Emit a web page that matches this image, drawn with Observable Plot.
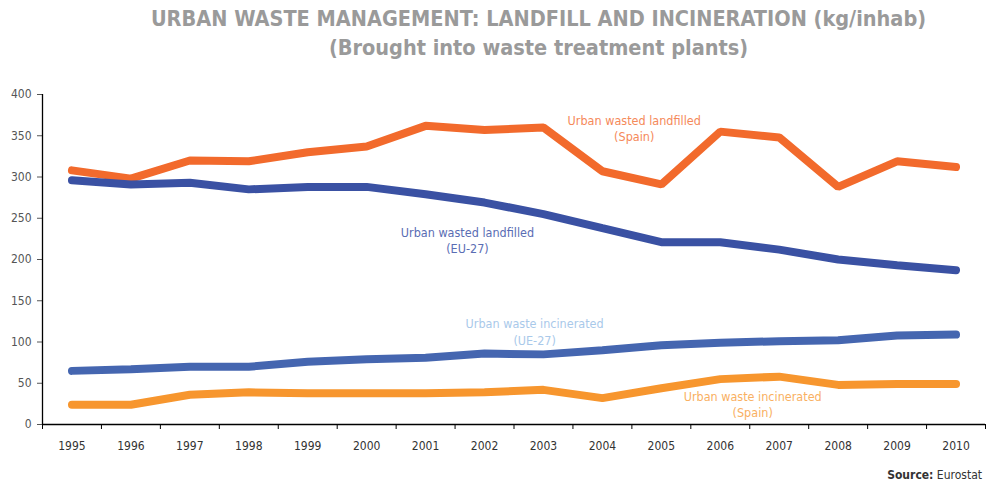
<!DOCTYPE html>
<html><head><meta charset="utf-8">
<script src="https://cdn.jsdelivr.net/npm/d3@7"></script>
<script src="https://cdn.jsdelivr.net/npm/@observablehq/plot@0.6"></script>
<style>
body{margin:0;background:#fff;width:987px;height:482px;overflow:hidden;font-family:"DejaVu Sans Condensed",sans-serif;}
#title{height:70px;text-align:center;color:#9a9a9a;font-weight:bold;font-size:21.5px;line-height:29px;padding-left:90px;box-sizing:border-box;padding-top:4px;}
#caption{text-align:right;font-size:12px;color:#333;padding-right:5px;margin-top:8px;}
</style></head><body>
<div id="title">URBAN WASTE MANAGEMENT: LANDFILL AND INCINERATION (kg/inhab)<br>(Brought into waste treatment plants)</div>
<div id="chart"></div>
<div id="caption"><b>Source:</b> Eurostat</div>
<script>
const years = [1995,1996,1997,1998,1999,2000,2001,2002,2003,2004,2005,2006,2007,2008,2009,2010];
const spainLandfilled = [308,298,320,319,330,337,362,357,360,307,291,355,348,288,319,312];
const euLandfilled = [296,291,293,285,288,288,279,269,255,238,221,221,212,200,193,187];
const euIncinerated = [65,67,70,70,76,79,81,86,85,90,96,99,101,102,108,109];
const spainIncinerated = [24,24,36,39,38,38,38,39,42,32,44,55,58,48,49,49];
const yTicks = [0,50,100,150,200,250,300,350,400];

const series = [
  {name:"Urban wasted landfilled (Spain)", values:spainLandfilled, color:"#f26a2c"},
  {name:"Urban wasted landfilled (EU-27)", values:euLandfilled, color:"#3a51a3"},
  {name:"Urban waste incinerated (UE-27)", values:euIncinerated, color:"#4566b0"},
  {name:"Urban waste incinerated (Spain)", values:spainIncinerated, color:"#f7962e"}
];
const data = series.flatMap(s => years.map((y,i) => ({year:y, value:s.values[i], series:s.name})));

const labels = [
  {year:2004.54, value:360, text:"Urban wasted landfilled\n(Spain)", color:"#f5895a"},
  {year:2001.71, value:224, text:"Urban wasted landfilled\n(EU-27)", color:"#5a6db4"},
  {year:2002.85, value:113, text:"Urban waste incinerated\n(UE-27)", color:"#a9c9ea"},
  {year:2006.55, value:25, text:"Urban waste incinerated\n(Spain)", color:"#f9b062"}
];

const bounds = d3.range(1994.5, 2011, 1);

const chart = Plot.plot({
  width: 987,
  height: 390,
  marginTop: 24,
  marginLeft: 42,
  marginRight: 2,
  marginBottom: 36,
  style: {fontFamily: '"DejaVu Sans Condensed",sans-serif', fontSize: "12px", color: "#555"},
  x: {domain: [1994.5, 2010.5]},
  y: {domain: [0, 400]},
  color: {domain: series.map(s => s.name), range: series.map(s => s.color)},
  marks: [
    Plot.axisY({ticks: yTicks, tickSize: 5, tickPadding: 6, label: null, fill: "#555"}),
    Plot.axisX({ticks: bounds, tickFormat: () => "", tickSize: 5, label: null, stroke: "#000"}),
    Plot.axisX({ticks: years, tickFormat: d => String(d), tickSize: 0, tickPadding: 17, label: null, fill: "#333"}),
    Plot.ruleX([1994.5], {stroke: "#000", strokeWidth: 1.3}),
    Plot.ruleY([0], {stroke: "#000", strokeWidth: 1.3}),
    Plot.line(data, {x: "year", y: "value", z: "series", stroke: "series", strokeWidth: 8, strokeLinecap: "round", strokeLinejoin: "miter"}),
    Plot.text(labels, {x: "year", y: "value", text: "text", fill: d => d.color, fontSize: 12.5, lineHeight: 1.3})
  ]
});
document.getElementById("chart").appendChild(chart);
</script>
</body></html>
